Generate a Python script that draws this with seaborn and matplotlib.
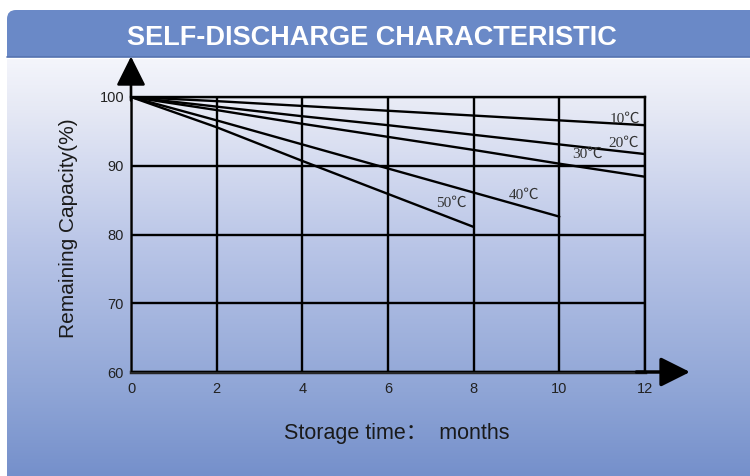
import numpy as np
import pandas as pd
import matplotlib
matplotlib.use('Agg')
import matplotlib.pyplot as plt
from matplotlib.patches import FancyBboxPatch, Rectangle
import seaborn as sns

months = [0, 2, 4, 6, 8, 10, 12]
cap_10 = [100, 99.4, 98.7, 98.0, 97.3, 96.6, 95.9]
cap_20 = [100, 98.6, 97.2, 95.9, 94.5, 93.1, 91.7]
cap_30 = [100, 98.1, 96.1, 94.2, 92.3, 90.3, 88.4]
cap_40 = [100, 96.6, 93.1, 89.6, 86.1, 82.6]
cap_50 = [100, 95.6, 90.7, 85.9, 81.1]
temps = ['10℃', '20℃', '30℃', '40℃', '50℃']
label_x = [11.53, 11.51, 10.65, 9.18, 7.47]
label_y = [96.8, 93.3, 91.6, 85.7, 84.5]
x_ticks = [0, 2, 4, 6, 8, 10, 12]
y_ticks = [60, 70, 80, 90, 100]

rows = []
for t, vals in zip(temps, [cap_10, cap_20, cap_30, cap_40, cap_50]):
    for m, v in zip(months, vals):
        rows.append({'month': m, 'capacity': v, 'temp': t})
df = pd.DataFrame(rows)

sns.set_style('white')
plt.rcParams['font.family'] = ['Liberation Sans', 'Noto Sans CJK SC', 'DejaVu Sans']

fig = plt.figure(figsize=(7.5, 4.76), dpi=100)
fig.patch.set_facecolor('white')

# background panel in pixel coords
bg = fig.add_axes([0, 0, 1, 1], zorder=-5)
bg.set_xlim(0, 750)
bg.set_ylim(476, 0)
bg.axis('off')
panel = FancyBboxPatch((7, 10), 760, 480, boxstyle='round,pad=0,rounding_size=9',
                       fc='none', ec='none')
bg.add_patch(panel)
grad = np.linspace(0, 1, 256).reshape(-1, 1)
cmap = matplotlib.colors.LinearSegmentedColormap.from_list(
    'bgc', [(0, '#f4f5fb'), (0.12, '#e6e9f5'), (0.45, '#b9c5e7'), (0.8, '#8fa5d6'), (1, '#7590cb')])
im = bg.imshow(grad, extent=(7, 767, 476, 59), aspect='auto', cmap=cmap, zorder=0)
im.set_clip_path(panel)
header = Rectangle((7, 10), 760, 47, fc='#6a89c7', ec='none', zorder=1)
bg.add_patch(header)
header.set_clip_path(panel)
bg.plot([7, 750], [57, 57], color='#5573b0', lw=1.2, zorder=2)
bg.text(372, 38, 'SELF-DISCHARGE CHARACTERISTIC', color='white', fontsize=19.5,
        fontweight='bold', ha='center', va='center', zorder=3)

ax = fig.add_axes([131 / 750, 1 - 372 / 476, 514 / 750, 275 / 476])
ax.set_facecolor('none')

sns.lineplot(data=df, x='month', y='capacity', hue='temp', palette=['black'] * 5,
             linewidth=1.7, legend=False, ax=ax, zorder=3)

for t, lx, ly in zip(temps, label_x, label_y):
    ax.text(lx, ly, t, family=['Liberation Serif', 'Noto Sans CJK SC'], fontsize=11,
            color='#333333', ha='center', va='center', zorder=4)

ax.set_xlim(0, 12)
ax.set_ylim(60, 100)
ax.set_xticks(x_ticks)
ax.set_yticks(y_ticks)
ax.grid(True, color='black', linewidth=1.7)
ax.set_axisbelow(False)
for s in ['top', 'right']:
    ax.spines[s].set_linewidth(1.7)
    ax.spines[s].set_color('black')
ax.spines['left'].set_linewidth(1.9)
ax.spines['bottom'].set_linewidth(2.5)
ax.tick_params(axis='y', length=3, width=1, labelsize=10.5, pad=2, colors='#222222')
ax.tick_params(axis='x', length=0, labelsize=10.5, pad=7, colors='#222222')

# axis arrows
ax.annotate('', xy=(0, 105.9), xytext=(0, 99.5), annotation_clip=False,
            arrowprops=dict(arrowstyle='-|>,head_length=1.0,head_width=0.5', color='black',
                            lw=1.9, mutation_scale=18, shrinkA=0, shrinkB=0))
ax.annotate('', xy=(13.05, 60), xytext=(11.8, 60), annotation_clip=False,
            arrowprops=dict(arrowstyle='-|>,head_length=1.0,head_width=0.5', color='black',
                            lw=2.5, mutation_scale=18, shrinkA=0, shrinkB=0))

ax.set_xlabel('')
ax.set_ylabel('')
fig.text(68 / 750, 1 - 228 / 476, 'Remaining Capacity(%)', rotation=90, fontsize=15,
         ha='center', va='center', color='#1a1a1a')
fig.text(397 / 750, 1 - 433 / 476, 'Storage time：  months', fontsize=15.5,
         ha='center', va='center', color='#1a1a1a')

fig.savefig('out.png', dpi=100)
